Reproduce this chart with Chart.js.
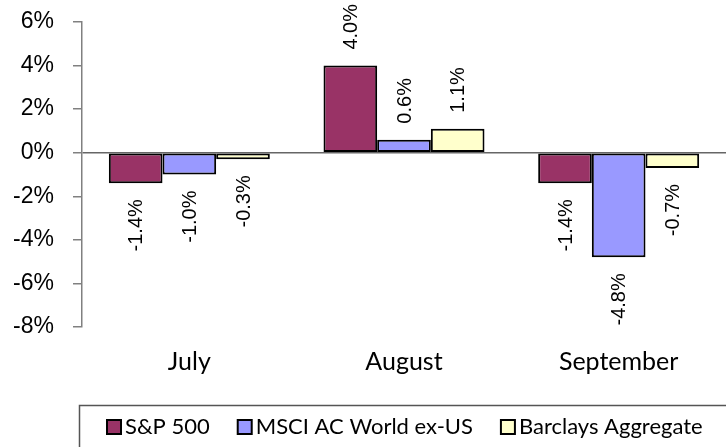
<!DOCTYPE html>
<html>
<head>
<meta charset="utf-8">
<script src="https://cdn.jsdelivr.net/npm/chart.js@4.4.0/dist/chart.umd.min.js"></script>
<style>
  html, body { margin: 0; padding: 0; background: #fff; }
  #wrap { width: 726px; height: 447px; }
</style>
</head>
<body>
<div id="wrap"><canvas id="returns-chart"></canvas></div>
<script>
const months = ['July', 'August', 'September'];
const sp500 = [-1.4, 4.0, -1.4];
const msciAcwx = [-1.0, 0.6, -4.8];
const barclaysAgg = [-0.3, 1.1, -0.7];
const yTicks = [6, 4, 2, 0, -2, -4, -6, -8];

const arialFont = '"Liberation Sans", Arial, sans-serif';
const roundFont = 'Lato, "Open Sans", sans-serif';

// rotated value labels at the end of each bar
const barLabels = {
    id: 'barLabels',
    afterDatasetsDraw(chart) {
        const ctx = chart.ctx;
        ctx.save();
        ctx.font = '20px ' + arialFont;
        ctx.fillStyle = '#000';
        ctx.textBaseline = 'middle';
        chart.data.datasets.forEach((ds, i) => {
            chart.getDatasetMeta(i).data.forEach((bar, j) => {
                const v = ds.data[j];
                ctx.save();
                ctx.translate(bar.x + 1, v >= 0 ? bar.y - 16 : bar.y + 16);
                ctx.rotate(-Math.PI / 2);
                ctx.textAlign = v >= 0 ? 'left' : 'right';
                ctx.fillText(v.toFixed(1) + '%', 0, 0);
                ctx.restore();
            });
        });
        ctx.restore();
    }
};

// legend in a framed box under the chart (only top and left edge fall inside the canvas)
const boxLegend = {
    id: 'boxLegend',
    afterDraw(chart) {
        const ctx = chart.ctx;
        ctx.save();
        ctx.strokeStyle = '#555';
        ctx.lineWidth = 1.5;
        ctx.strokeRect(79.5, 405.5, 660, 60);

        ctx.font = '22px ' + roundFont;
        ctx.textBaseline = 'middle';
        ctx.textAlign = 'left';
        let x = 107;
        const y = 427;
        chart.data.datasets.forEach(ds => {
            ctx.fillStyle = ds.backgroundColor;
            ctx.fillRect(x, y - 7, 14, 14);
            ctx.strokeStyle = '#000';
            ctx.lineWidth = 2;
            ctx.strokeRect(x, y - 7, 14, 14);
            ctx.fillStyle = '#000';
            ctx.fillText(ds.label, x + 18, y);
            x += 18 + ctx.measureText(ds.label).width + 28;
        });
        ctx.restore();
    }
};

const ctx = document.getElementById('returns-chart').getContext('2d');
const returnsChart = new Chart(ctx, {
    type: 'bar',
    data: {
        labels: months,
        datasets: [
            { label: 'S&P 500', data: sp500, backgroundColor: '#993366' },
            { label: 'MSCI AC World ex-US', data: msciAcwx, backgroundColor: '#9999FF' },
            { label: 'Barclays Aggregate', data: barclaysAgg, backgroundColor: '#FFFFCC' }
        ].map(d => Object.assign(d, {
            borderColor: '#000',
            borderWidth: 2,
            borderSkipped: false,
            barPercentage: 1,
            categoryPercentage: 0.75
        }))
    },
    options: {
        responsive: true,
        maintainAspectRatio: false,
        animation: false,
        layout: { padding: { top: 22, right: 0, left: 0, bottom: 42 } },
        scales: {
            x: {
                afterFit: axis => { axis.height = 78; },
                grid: { display: false, drawTicks: false },
                border: { display: false },
                ticks: {
                    color: '#000',
                    padding: 20,
                    font: { family: roundFont, size: 25 }
                }
            },
            y: {
                min: -8,
                max: 6,
                afterFit: axis => {
                    axis.width = 82;
                    axis.paddingTop = 0;
                    axis.paddingBottom = 0;
                },
                afterBuildTicks: axis => {
                    axis.ticks = yTicks.map(v => ({ value: v }));
                },
                border: { display: true, color: '#808080', width: 1.5 },
                grid: {
                    color: c => c.tick && c.tick.value === 0 ? '#666' : 'transparent',
                    lineWidth: 1.5,
                    tickColor: '#808080',
                    tickLength: 9,
                    drawTicks: true
                },
                ticks: {
                    color: '#000',
                    padding: 19,
                    font: { family: arialFont, size: 23 },
                    callback: v => v + '%'
                }
            }
        },
        plugins: {
            tooltip: { enabled: false },
            legend: { display: false }
        }
    },
    plugins: [barLabels, boxLegend]
});
</script>
</body>
</html>
